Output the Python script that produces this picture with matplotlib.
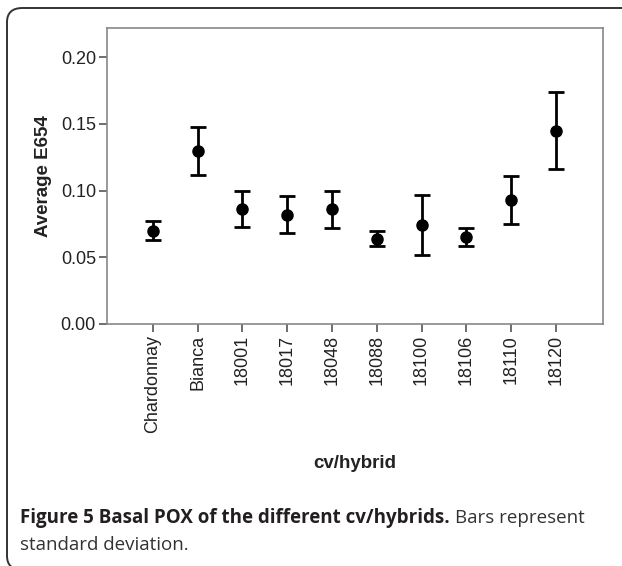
import numpy as np
import matplotlib.pyplot as plt
from matplotlib.patches import FancyBboxPatch

# data
cultivars = ['Chardonnay', 'Bianca', '18001', '18017', '18048',
             '18088', '18100', '18106', '18110', '18120']
mean_e654 = [0.070, 0.130, 0.086, 0.082, 0.086, 0.064, 0.074, 0.065, 0.093, 0.145]
sd_e654 = [0.007, 0.018, 0.0135, 0.014, 0.014, 0.0055, 0.0225, 0.0068, 0.018, 0.029]
yticks = [0.00, 0.05, 0.10, 0.15, 0.20]

W, H = 622, 566
fig = plt.figure(figsize=(W / 100, H / 100), dpi=100)

# rounded frame around the figure (open on the right like the source)
frame = FancyBboxPatch((7 / W, 1 - 570 / H), 650 / W, 562 / H,
                       boxstyle="round,pad=0,rounding_size=0.025",
                       transform=fig.transFigure, fill=False,
                       edgecolor='#333333', linewidth=1.4, clip_on=False)
fig.patches.append(frame)

ax = fig.add_axes([107 / W, 1 - 324 / H, 496 / W, 296 / H])
x = np.arange(len(cultivars))
ax.errorbar(x, mean_e654, yerr=sd_e654, fmt='o', color='black',
            markersize=8, elinewidth=2, capsize=6, capthick=2)

ax.set_xlim(-1.02, 10.05)
ax.set_ylim(0, 0.222)
ax.set_yticks(yticks)
ax.set_yticklabels([f'{v:.2f}' for v in yticks])
ax.set_xticks(x)
ax.set_xticklabels(cultivars, rotation=90)

for s in ax.spines.values():
    s.set_color('#888888')
    s.set_linewidth(1.2)
ax.tick_params(axis='both', direction='out', length=6, width=1.2,
               color='#555555', labelsize=13, labelcolor='#222222', pad=2)
for lab in ax.get_xticklabels() + ax.get_yticklabels():
    lab.set_family('Liberation Sans')

ax.set_ylabel('Average E654', fontsize=13.5, fontweight='bold',
              family='Liberation Sans', color='#222222', labelpad=6)
ax.set_xlabel('cv/hybrid', fontsize=13.5, fontweight='bold',
              family='Liberation Sans', color='#222222', labelpad=16)

# caption
bold = fig.text(20 / W, 1 - 518 / H, 'Figure 5 Basal POX of the different cv/hybrids.',
                fontsize=13.5, fontweight='bold', family='Open Sans',
                color='#231f20', va='center', ha='left')
fig.canvas.draw()
bb = bold.get_window_extent()
fig.text((bb.x1 + 5) / W, 1 - 518 / H, 'Bars represent', fontsize=13.5,
         family='Open Sans', color='#333333', va='center', ha='left')
fig.text(20 / W, 1 - 545 / H, 'standard deviation.', fontsize=13.5,
         family='Open Sans', color='#333333', va='center', ha='left')

fig.savefig('out.png', dpi=100)
